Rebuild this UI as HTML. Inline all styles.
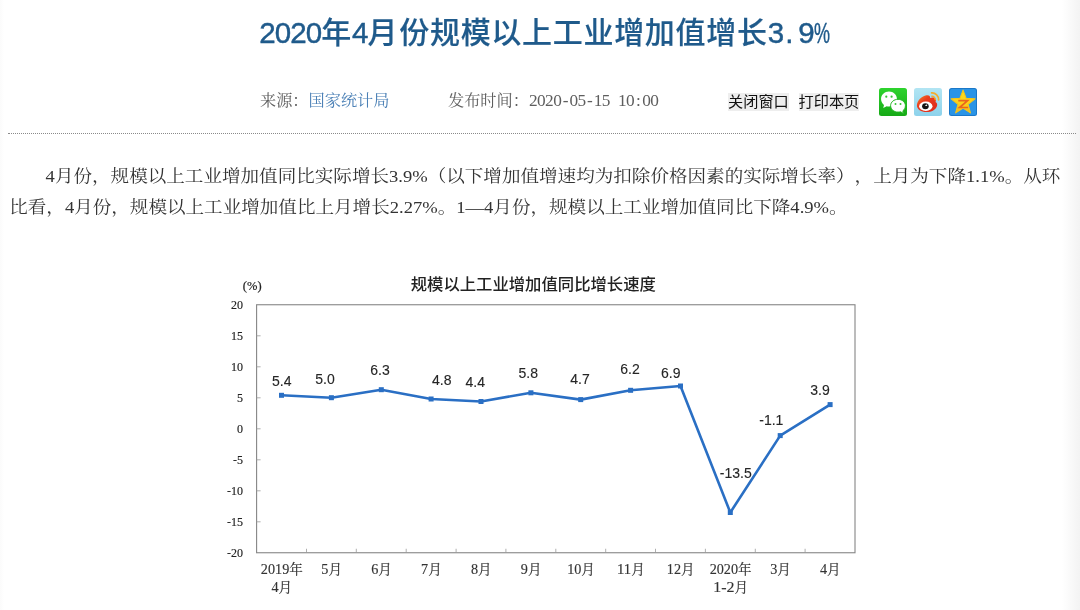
<!DOCTYPE html>
<html lang="zh-CN"><head><meta charset="utf-8"><title>2020年4月份规模以上工业增加值增长3.9%</title>
<style>
html,body{margin:0;padding:0;background:#fff;}
body{width:1080px;height:610px;position:relative;overflow:hidden;text-spacing-trim:space-all;font-family:"Liberation Serif","Noto Serif CJK SC",serif;}
.edgeL{position:absolute;left:0;top:0;width:4px;height:610px;background:linear-gradient(to right,#fbfbfb,#fff);}
.edgeR{position:absolute;right:0;top:0;width:18px;height:610px;background:linear-gradient(to left,#f3f3f3,#fff);}
h1{position:absolute;left:259.3px;top:13px;margin:0;text-align:left;font:500 30px/40px "Liberation Sans","Noto Sans CJK SC",sans-serif;letter-spacing:.7px;-webkit-text-stroke:.15px #1f5a8b;color:#1f5a8b;white-space:nowrap;}
h1 b{font-size:29.5px;font-weight:normal;-webkit-text-stroke:0.45px #1f5a8b;letter-spacing:-0.9px;position:relative;top:-0.500px}
h1 .pc{display:inline-block;width:15px;transform:scaleX(.61);transform-origin:0 50%;}
.meta{position:absolute;top:88.500px;font-size:16.2px;line-height:24px;color:#5e5e5e;white-space:nowrap;}
.meta a{color:#4b80b6;text-decoration:none;}
.meta .num{font-size:17.3px;letter-spacing:-0.55px}
.meta i{display:inline-block;width:8.1px;text-align:center;font-style:normal}
.btn{position:absolute;top:93px;height:17.700px;font:15.2px/17.700px "Liberation Sans","Noto Sans CJK SC",sans-serif;color:#111;background:#eee;white-space:nowrap;}
.ico{position:absolute;top:88px;width:28px;height:28px;}
.ico svg{display:block}
.dot{position:absolute;left:8px;top:132.500px;width:1068px;height:0;border-top:1px dotted #8a8a8a;}
.ln{position:absolute;margin:0;font-size:18.57px;line-height:30px;color:#333;white-space:nowrap;transform:scaleY(.93);transform-origin:0 50%;}
.chart{position:absolute;left:0;top:0;}
.chart text{font-family:"Liberation Serif","Noto Serif CJK SC",serif;fill:#222;}
.chart .ax{font-size:12px;stroke:#222;stroke-width:.15px}
.chart .xl{font-size:13.6px;fill:#333;stroke:#333;stroke-width:.15px}
.chart .xd{font-size:15.5px;fill:#333;stroke:#333;stroke-width:.15px}
.chart .pc{font-size:12.5px;stroke:#222;stroke-width:.2px}
.chart .dl{font-family:"Liberation Sans",sans-serif;font-size:14px;fill:#262626;stroke:#262626;stroke-width:.12px}
.chart .ct{font-family:"Liberation Sans","Noto Sans CJK SC",sans-serif;font-size:16.35px;font-weight:500;fill:#222}
</style></head><body>
<div class="edgeL"></div><div class="edgeR"></div>
<h1><b>2020</b>年<b>4</b>月<span style="margin-left:1px">份</span>规模以上工业增加值增长<b style="margin-left:0">3</b><b style="margin-left:2.2px">.</b><b style="margin-left:5.7px">9<span class="pc">%</span></b></h1>
<div class="meta" style="left:260px">来源：<a>国家统计局</a></div>
<div class="meta" style="left:448px">发布时间：<span class="num">2020<i>-</i>05<i>-</i>15<i>&nbsp;</i>10<i>:</i>00</span></div>
<div class="btn" style="left:728px">关闭窗口</div>
<div class="btn" style="left:798.500px">打印本页</div>
<div class="ico" style="left:879px"><svg viewBox="0 0 28 28" width="28" height="28"><defs><linearGradient id="gw" x1="0" y1="0" x2="0" y2="1"><stop offset="0" stop-color="#2ed32e"/><stop offset="1" stop-color="#16a916"/></linearGradient></defs>
<rect width="28" height="28" rx="2.5" fill="url(#gw)"/>
<path d="M10 3.600c-4.400 0-7.950 3.350-7.950 7.500 0 2.350 1.150 4.450 2.950 5.850l-.75 3.050 3.400-1.850c.8.200 1.550.350 2.350.350 4.400 0 7.950-3.350 7.950-7.400s-3.550-7.500-7.950-7.500z" fill="#fff"/>
<path d="M19 11.300c-4.100 0-7.400 2.850-7.400 6.400s3.300 6.400 7.400 6.400c.85 0 1.700-.1 2.450-.350l3.100 1.700-.7-2.600c1.550-1.200 2.550-3 2.550-5.150 0-3.550-3.300-6.400-7.400-6.400z" fill="#fff" stroke="#20b620" stroke-width="1"/>
<circle cx="7.300" cy="8.700" r="1.100" fill="#35c535"/><circle cx="12.600" cy="8.700" r="1.100" fill="#35c535"/>
<circle cx="16.500" cy="15.900" r="1" fill="#35c535"/><circle cx="21.500" cy="15.900" r="1" fill="#35c535"/></svg></div>
<div class="ico" style="left:913.500px"><svg viewBox="0 0 28 28" width="28" height="28"><defs><linearGradient id="gb" x1="0" y1="0" x2="0" y2="1"><stop offset="0" stop-color="#b2e5f3"/><stop offset="1" stop-color="#8dd2eb"/></linearGradient>
<linearGradient id="gr" x1="0" y1="0" x2="1" y2="1"><stop offset="0" stop-color="#f58a28"/><stop offset=".35" stop-color="#ea3c1e"/><stop offset="1" stop-color="#dc2a1c"/></linearGradient></defs>
<rect width="28" height="28" rx="2.5" fill="url(#gb)"/>
<path d="M2.900 17.600C2.900 12.600 8 8 12.500 7.300c2.500-.4 4 .8 3.500 2.800 2-1 5-1 5.800 1 .5 1.300 0 2.300-.3 2.800 1.500.7 2 2.200 1.500 4-1 3.700-5.500 6.200-10.500 6.200-5.500 0-9.600-2.700-9.600-6.500z" fill="url(#gr)"/>
<ellipse cx="11.800" cy="18.200" rx="6.700" ry="4.700" fill="#fff"/>
<ellipse cx="11.400" cy="18.300" rx="3.300" ry="3" fill="#151515"/>
<ellipse cx="12.300" cy="17.300" rx="1.100" ry=".65" fill="#fff" transform="rotate(-25 12.3 17.3)"/>
<path d="M17.800 8.300a3.300 3.300 0 0 1 3.500 3.500" fill="none" stroke="#f4ac2e" stroke-width="1.400" stroke-linecap="round"/>
<path d="M17.600 4.900a6.600 6.600 0 0 1 7 7" fill="none" stroke="#f4ac2e" stroke-width="1.700" stroke-linecap="round"/></svg></div>
<div class="ico" style="left:948.500px"><svg viewBox="0 0 28 28" width="28" height="28"><defs><linearGradient id="gs" x1="0" y1="0" x2="0" y2="1"><stop offset="0" stop-color="#ffe21a"/><stop offset=".6" stop-color="#fbd01a"/><stop offset="1" stop-color="#f3b21c"/></linearGradient></defs>
<rect width="28" height="28" rx="2.500" fill="#1b78c8"/><rect x="1" y="1" width="26" height="26" rx="1.500" fill="#2a94e6"/>
<path d="M14.05 2.10L17.17 10.41L26.03 10.81L19.09 16.34L21.46 24.89L14.05 20.00L6.64 24.89L9.01 16.34L2.07 10.81L10.93 10.41Z" fill="url(#gs)" stroke="#f6c41a" stroke-width="1.1" stroke-linejoin="round"/>
<path d="M9.300 12.600h9.300l-8 6.900h8.500" fill="none" stroke="#ea651f" stroke-width="1.700"/></svg></div>
<div class="dot"></div>
<p class="ln" id="l1" style="left:45.6px;top:161.2px">4月份，规模以上工业增加值同比实际增长3.9%（以下增加值增速均为扣除价格因素的实际增长率），上月为下降1.1%。从环</p>
<p class="ln" id="l2" style="left:9.2px;top:192px">比看，4月份，规模以上工业增加值比上月增长2.27%。1—4月份，规模以上工业增加值同比下降4.9%。</p>
<svg class="chart" width="1080" height="610" viewBox="0 0 1080 610">
<rect x="256.6" y="304.75" width="598.4" height="248.0" fill="none" stroke="#858585" stroke-width="1.1"/>
<text x="243" y="308.9" text-anchor="end" class="ax">20</text>
<line x1="256.6" y1="335.8" x2="260.6" y2="335.8" stroke="#9a9a9a" stroke-width="0.8"/>
<text x="243" y="339.9" text-anchor="end" class="ax">15</text>
<line x1="256.6" y1="366.8" x2="260.6" y2="366.8" stroke="#9a9a9a" stroke-width="0.8"/>
<text x="243" y="370.9" text-anchor="end" class="ax">10</text>
<line x1="256.6" y1="397.8" x2="260.6" y2="397.8" stroke="#9a9a9a" stroke-width="0.8"/>
<text x="243" y="401.9" text-anchor="end" class="ax">5</text>
<line x1="256.6" y1="428.8" x2="260.6" y2="428.8" stroke="#9a9a9a" stroke-width="0.8"/>
<text x="243" y="432.9" text-anchor="end" class="ax">0</text>
<line x1="256.6" y1="459.8" x2="260.6" y2="459.8" stroke="#9a9a9a" stroke-width="0.8"/>
<text x="243" y="463.9" text-anchor="end" class="ax">-5</text>
<line x1="256.6" y1="490.8" x2="260.6" y2="490.8" stroke="#9a9a9a" stroke-width="0.8"/>
<text x="243" y="494.9" text-anchor="end" class="ax">-10</text>
<line x1="256.6" y1="521.8" x2="260.6" y2="521.8" stroke="#9a9a9a" stroke-width="0.8"/>
<text x="243" y="525.9" text-anchor="end" class="ax">-15</text>
<text x="243" y="556.9" text-anchor="end" class="ax">-20</text>
<line x1="306.5" y1="552.75" x2="306.5" y2="548.75" stroke="#9a9a9a" stroke-width="0.8"/>
<line x1="356.3" y1="552.75" x2="356.3" y2="548.75" stroke="#9a9a9a" stroke-width="0.8"/>
<line x1="406.2" y1="552.75" x2="406.2" y2="548.75" stroke="#9a9a9a" stroke-width="0.8"/>
<line x1="456.1" y1="552.75" x2="456.1" y2="548.75" stroke="#9a9a9a" stroke-width="0.8"/>
<line x1="505.9" y1="552.75" x2="505.9" y2="548.75" stroke="#9a9a9a" stroke-width="0.8"/>
<line x1="555.8" y1="552.75" x2="555.8" y2="548.75" stroke="#9a9a9a" stroke-width="0.8"/>
<line x1="605.7" y1="552.75" x2="605.7" y2="548.75" stroke="#9a9a9a" stroke-width="0.8"/>
<line x1="655.5" y1="552.75" x2="655.5" y2="548.75" stroke="#9a9a9a" stroke-width="0.8"/>
<line x1="705.4" y1="552.75" x2="705.4" y2="548.75" stroke="#9a9a9a" stroke-width="0.8"/>
<line x1="755.3" y1="552.75" x2="755.3" y2="548.75" stroke="#9a9a9a" stroke-width="0.8"/>
<line x1="805.1" y1="552.75" x2="805.1" y2="548.75" stroke="#9a9a9a" stroke-width="0.8"/>
<polyline points="281.5,395.3 331.4,397.8 381.3,389.7 431.1,399.0 481.0,401.5 530.9,392.8 580.7,399.6 630.6,390.3 680.5,386.0 730.3,512.5 780.2,435.6 830.1,404.6" fill="none" stroke="#2a6fc4" stroke-width="2.6" stroke-linejoin="round"/>
<rect x="279.0" y="392.8" width="5" height="5" fill="#2a6fc4"/>
<rect x="328.9" y="395.2" width="5" height="5" fill="#2a6fc4"/>
<rect x="378.8" y="387.2" width="5" height="5" fill="#2a6fc4"/>
<rect x="428.6" y="396.5" width="5" height="5" fill="#2a6fc4"/>
<rect x="478.5" y="399.0" width="5" height="5" fill="#2a6fc4"/>
<rect x="528.4" y="390.3" width="5" height="5" fill="#2a6fc4"/>
<rect x="578.2" y="397.1" width="5" height="5" fill="#2a6fc4"/>
<rect x="628.1" y="387.8" width="5" height="5" fill="#2a6fc4"/>
<rect x="678.0" y="383.5" width="5" height="5" fill="#2a6fc4"/>
<rect x="727.8" y="510.0" width="5" height="5" fill="#2a6fc4"/>
<rect x="777.7" y="433.1" width="5" height="5" fill="#2a6fc4"/>
<rect x="827.6" y="402.1" width="5" height="5" fill="#2a6fc4"/>
<text x="281.7" y="385.6" text-anchor="middle" class="dl">5.4</text>
<text x="325" y="384.3" text-anchor="middle" class="dl">5.0</text>
<text x="380" y="374.8" text-anchor="middle" class="dl">6.3</text>
<text x="441.7" y="385.2" text-anchor="middle" class="dl">4.8</text>
<text x="475.3" y="387.1" text-anchor="middle" class="dl">4.4</text>
<text x="528.3" y="378.2" text-anchor="middle" class="dl">5.8</text>
<text x="580" y="384.3" text-anchor="middle" class="dl">4.7</text>
<text x="630" y="374" text-anchor="middle" class="dl">6.2</text>
<text x="670.7" y="378.3" text-anchor="middle" class="dl">6.9</text>
<text x="735.8" y="478.3" text-anchor="middle" class="dl">-13.5</text>
<text x="771.3" y="425.3" text-anchor="middle" class="dl">-1.1</text>
<text x="820" y="395" text-anchor="middle" class="dl">3.9</text>
<text x="260.83" y="574.1"><tspan class="xd" textLength="28.40" lengthAdjust="spacingAndGlyphs">2019</tspan><tspan class="xl" x="289.23">年</tspan></text>
<text x="321.35" y="574.1"><tspan class="xd" textLength="7.10" lengthAdjust="spacingAndGlyphs">5</tspan><tspan class="xl" x="328.45">月</tspan></text>
<text x="371.22" y="574.1"><tspan class="xd" textLength="7.10" lengthAdjust="spacingAndGlyphs">6</tspan><tspan class="xl" x="378.32">月</tspan></text>
<text x="421.08" y="574.1"><tspan class="xd" textLength="7.10" lengthAdjust="spacingAndGlyphs">7</tspan><tspan class="xl" x="428.18">月</tspan></text>
<text x="470.95" y="574.1"><tspan class="xd" textLength="7.10" lengthAdjust="spacingAndGlyphs">8</tspan><tspan class="xl" x="478.05">月</tspan></text>
<text x="520.82" y="574.1"><tspan class="xd" textLength="7.10" lengthAdjust="spacingAndGlyphs">9</tspan><tspan class="xl" x="527.92">月</tspan></text>
<text x="567.13" y="574.1"><tspan class="xd" textLength="14.20" lengthAdjust="spacingAndGlyphs">10</tspan><tspan class="xl" x="581.33">月</tspan></text>
<text x="617.00" y="574.1"><tspan class="xd" textLength="14.20" lengthAdjust="spacingAndGlyphs">11</tspan><tspan class="xl" x="631.20">月</tspan></text>
<text x="666.87" y="574.1"><tspan class="xd" textLength="14.20" lengthAdjust="spacingAndGlyphs">12</tspan><tspan class="xl" x="681.07">月</tspan></text>
<text x="709.63" y="574.1"><tspan class="xd" textLength="28.40" lengthAdjust="spacingAndGlyphs">2020</tspan><tspan class="xl" x="738.03">年</tspan></text>
<text x="770.15" y="574.1"><tspan class="xd" textLength="7.10" lengthAdjust="spacingAndGlyphs">3</tspan><tspan class="xl" x="777.25">月</tspan></text>
<text x="820.02" y="574.1"><tspan class="xd" textLength="7.10" lengthAdjust="spacingAndGlyphs">4</tspan><tspan class="xl" x="827.12">月</tspan></text>
<text x="271.48" y="592.1"><tspan class="xd" textLength="7.10" lengthAdjust="spacingAndGlyphs">4</tspan><tspan class="xl" x="278.58">月</tspan></text>
<text x="713.18" y="592.1"><tspan class="xd" textLength="21.30" lengthAdjust="spacingAndGlyphs">1-2</tspan><tspan class="xl" x="734.48">月</tspan></text>
<text x="252.2" y="290.3" text-anchor="middle" class="pc">(%)</text>
<text x="533.3" y="289.8" text-anchor="middle" class="ct">规模以上工业增加值同比增长速度</text>
</svg>
</body></html>
